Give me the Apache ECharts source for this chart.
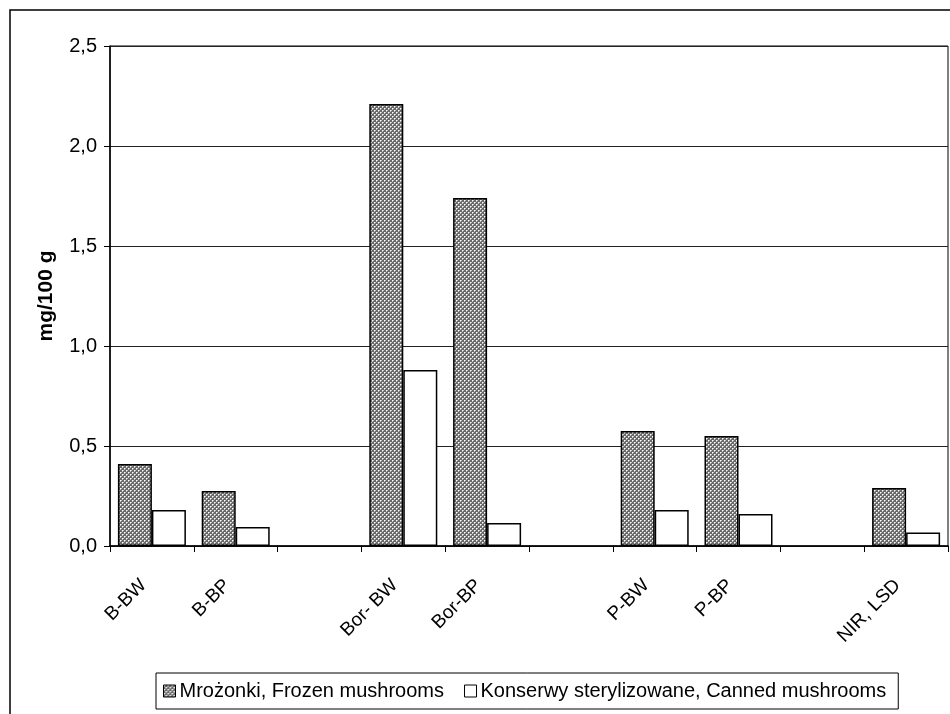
<!DOCTYPE html>
<html>
<head>
<meta charset="utf-8">
<script src="https://cdn.jsdelivr.net/npm/echarts@6/dist/echarts.min.js"></script>
<style>
  html, body { margin: 0; padding: 0; background: #fff; }
  #chart { width: 950px; height: 714px; }
</style>
</head>
<body>
<div id="chart"></div>
<script>
const categories = ['B-BW', 'B-BP', '', 'Bor- BW', 'Bor-BP', '', 'P-BW', 'P-BP', '', 'NIR, LSD'];
const frozen = [0.41, 0.275, '-', 2.21, 1.74, '-', 0.575, 0.55, '-', 0.29];
const canned = [0.18, 0.095, '-', 0.88, 0.115, '-', 0.18, 0.16, '-', 0.067];
const yTicks = [0, 0.5, 1.0, 1.5, 2.0, 2.5];

// crosshatch pattern like the old excel fill
function makePattern() {
  const c = document.createElement('canvas');
  c.width = 4; c.height = 4;
  const ctx = c.getContext('2d');
  ctx.fillStyle = '#6a6a6a';
  ctx.fillRect(0, 0, 4, 4);
  ctx.fillStyle = '#ffffff';
  ctx.fillRect(0, 0, 1, 1);
  ctx.fillRect(2, 2, 1, 1);
  ctx.fillStyle = '#c0c0c0';
  ctx.fillRect(1, 0, 1, 1);
  ctx.fillRect(0, 1, 1, 1);
  ctx.fillRect(3, 2, 1, 1);
  ctx.fillRect(2, 3, 1, 1);
  return c;
}
const hatch = { image: makePattern(), repeat: 'repeat' };

const chart = echarts.init(document.getElementById('chart'));
const font = 'Liberation Sans, Arial, sans-serif';

const option = {
  animation: false,
  backgroundColor: '#fff',
  graphic: [{
    type: 'rect',
    shape: { x: 10, y: 10, width: 960, height: 720 },
    style: { fill: 'none', stroke: '#000', lineWidth: 1.5 },
    silent: true
  }],
  grid: {
    left: 110, right: 2, top: 46, bottom: 168,
    show: true, borderColor: '#000', borderWidth: 1
  },
  legend: {
    left: 156, top: 673,
    width: 760,
    padding: [8, 12, 8, 7],
    borderColor: '#000', borderWidth: 1,
    itemWidth: 12, itemHeight: 12, itemGap: 20,
    icon: 'rect',
    textStyle: { fontFamily: font, fontSize: 20, color: '#000', padding: [0, 0, 0, -1] },
    data: [
      { name: 'Mrożonki, Frozen mushrooms', itemStyle: { color: hatch, borderColor: '#000', borderWidth: 1 } },
      { name: 'Konserwy sterylizowane, Canned mushrooms', itemStyle: { color: '#fff', borderColor: '#000', borderWidth: 1 } }
    ]
  },
  xAxis: {
    type: 'category',
    data: categories,
    boundaryGap: true,
    axisLine: { lineStyle: { color: '#000', width: 1.5 } },
    axisTick: { show: true, inside: false, length: 6, alignWithLabel: false, lineStyle: { color: '#000' } },
    axisLabel: {
      interval: 0, rotate: 45, margin: 28,
      padding: [0, 12, 0, 0],
      fontFamily: font, fontSize: 19, color: '#000'
    }
  },
  yAxis: {
    type: 'value',
    min: 0, max: 2.5, interval: 0.5,
    name: 'mg/100 g',
    nameLocation: 'middle',
    nameGap: 53,
    nameTextStyle: { fontFamily: font, fontSize: 21, fontWeight: 'bold', color: '#000' },
    axisLine: { show: true, lineStyle: { color: '#000', width: 1.5 } },
    axisTick: { show: true, length: 6, lineStyle: { color: '#000' } },
    splitLine: { show: true, lineStyle: { color: '#222', width: 1 } },
    axisLabel: {
      fontFamily: font, fontSize: 20, color: '#000', margin: 13,
      formatter: v => yTicks.includes(v) ? v.toFixed(1).replace('.', ',') : ''
    }
  },
  series: [
    {
      name: 'Mrożonki, Frozen mushrooms',
      type: 'bar',
      data: frozen,
      barWidth: 34,
      barGap: '0%',
      itemStyle: { color: hatch, borderColor: '#000', borderWidth: 1.5 }
    },
    {
      name: 'Konserwy sterylizowane, Canned mushrooms',
      type: 'bar',
      data: canned,
      barWidth: 34,
      barGap: '0%',
      itemStyle: { color: '#fff', borderColor: '#000', borderWidth: 1.5 }
    }
  ]
};

chart.setOption(option);
</script>
</body>
</html>
